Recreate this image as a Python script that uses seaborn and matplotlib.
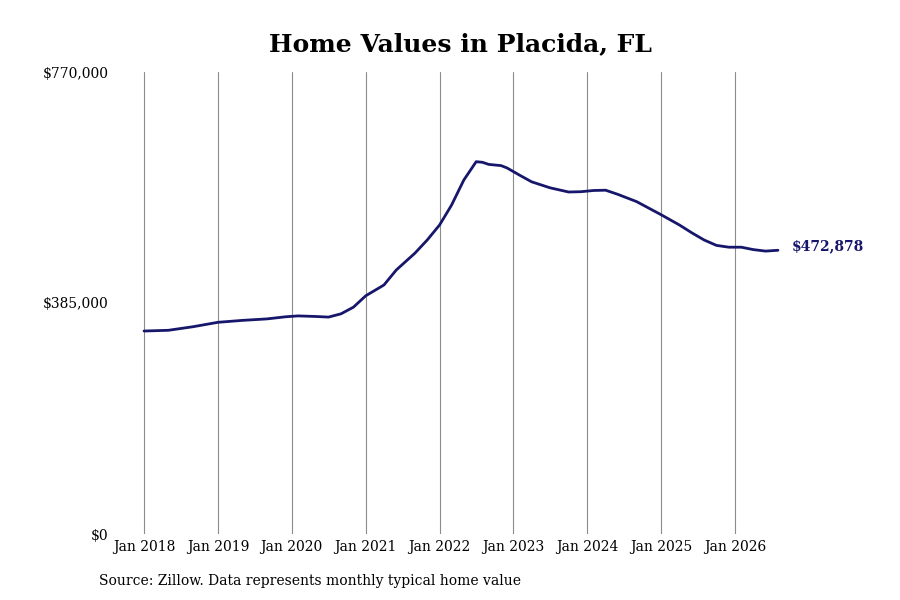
import pandas as pd
import matplotlib.pyplot as plt
import seaborn as sns

# values
dates = ["2018-01", "2018-05", "2018-09", "2019-01", "2019-05", "2019-09", "2019-12",
         "2020-02", "2020-05", "2020-07", "2020-09", "2020-11", "2021-01", "2021-04",
         "2021-06", "2021-09", "2021-11", "2022-01", "2022-03", "2022-05", "2022-07",
         "2022-08", "2022-09", "2022-11", "2022-12", "2023-02", "2023-04", "2023-07",
         "2023-10", "2023-12", "2024-02", "2024-04", "2024-06", "2024-09", "2024-11",
         "2025-01", "2025-04", "2025-06", "2025-08", "2025-10", "2025-12", "2026-02",
         "2026-04", "2026-06", "2026-08"]
values = [338300, 339500, 345500, 352800, 356000, 358500, 362000,
          363500, 362500, 361500, 367000, 378000, 397000, 415000,
          440000, 468000, 490000, 515000, 548000, 590000, 620500,
          619500, 616000, 614000, 610000, 598000, 587000, 577000,
          570000, 570500, 572500, 573000, 566000, 554000, 543000,
          532000, 515000, 502000, 490000, 481000, 478000, 478000,
          474000, 471500, 472878]
ytick_vals = [0, 385000, 770000]
ytick_labels = ["$0", "$385,000", "$770,000"]
xtick_years = list(range(2018, 2027))

df = pd.DataFrame({"date": pd.to_datetime(dates), "value": values})

sns.set_style("white")
plt.rcParams["font.family"] = ["DejaVu Serif"]
plt.rcParams["text.color"] = "black"
plt.rcParams["xtick.color"] = "black"
plt.rcParams["ytick.color"] = "black"

fig = plt.figure(figsize=(9, 6), dpi=100)
ax = fig.add_axes([0.1333, 0.11, 0.7556, 0.77])

navy = "#16166b"
sns.lineplot(data=df, x="date", y="value", color=navy, linewidth=2, ax=ax)

ax.set_xlim(pd.Timestamp("2017-09-04"), pd.Timestamp("2026-11-18"))
ax.set_ylim(0, 770000)

xticks = [pd.Timestamp(f"{y}-01-01") for y in xtick_years]
ax.set_xticks(xticks)
ax.set_xticklabels([f"Jan {y}" for y in xtick_years], fontsize=10)
ax.set_yticks(ytick_vals)
ax.set_yticklabels(ytick_labels, fontsize=10)
ax.tick_params(axis="x", length=0, pad=4)
ax.tick_params(axis="y", length=0, pad=8)

ax.grid(axis="x", color="#8c8c8c", linewidth=0.8)
ax.grid(axis="y", visible=False)
for s in ax.spines.values():
    s.set_visible(False)
ax.set_xlabel("")
ax.set_ylabel("")

last = df.iloc[-1]
ax.annotate(f"${last['value']:,.0f}", xy=(last["date"], last["value"]),
            xytext=(10, 3), textcoords="offset points", va="center", ha="left",
            fontsize=10, fontweight="bold", color=navy)

fig.text(0.512, 0.927, "Home Values in Placida, FL", ha="center", va="center",
         fontsize=18, fontweight="bold", color="black")
fig.text(0.11, 0.032, "Source: Zillow. Data represents monthly typical home value",
         ha="left", va="center", fontsize=10)

fig.savefig("out.png", dpi=100)
